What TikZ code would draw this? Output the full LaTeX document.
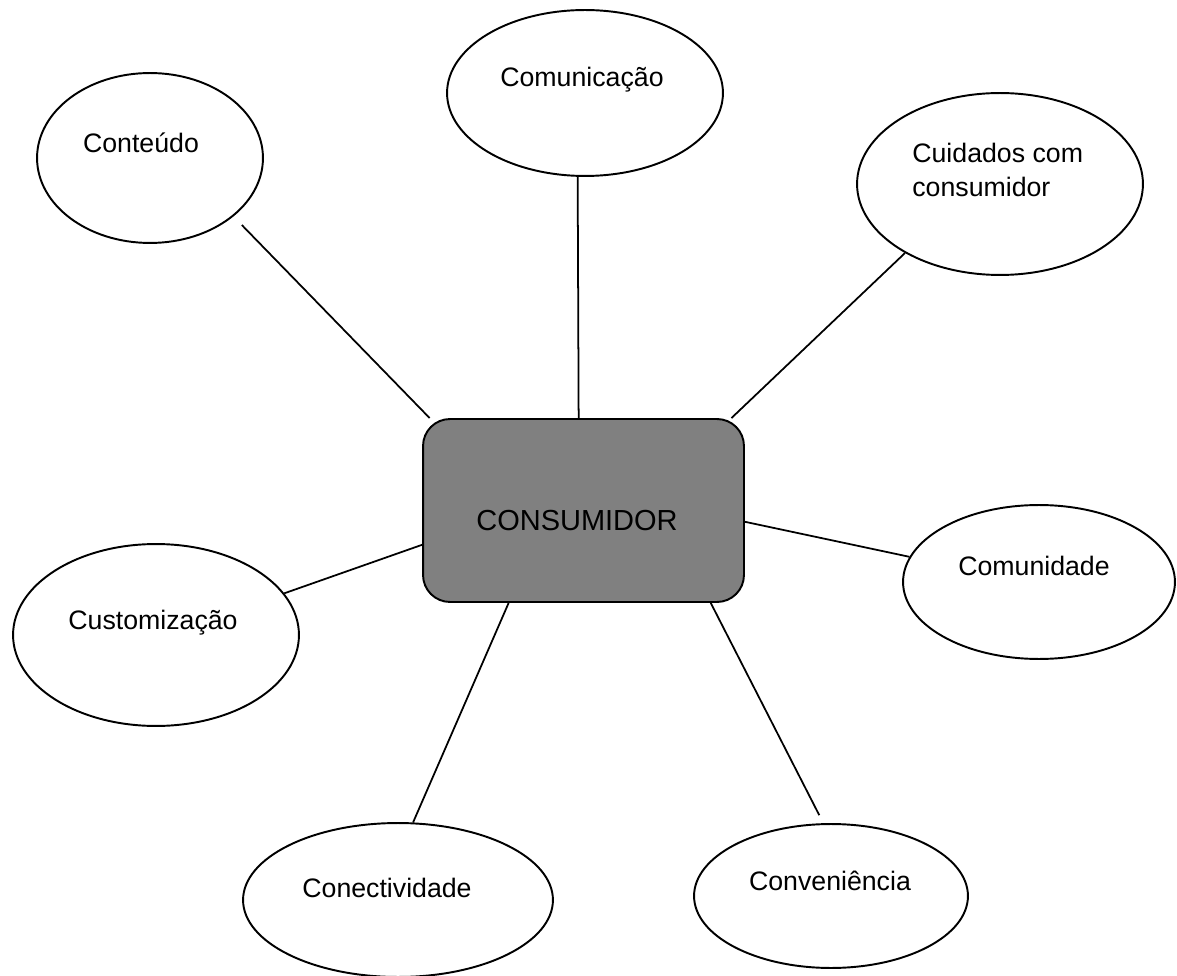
\documentclass[tikz,border=0pt]{standalone}
\usepackage{fontspec}
\setmainfont{Liberation Sans}
\usetikzlibrary{shapes.geometric}

\begin{document}
\begin{tikzpicture}[x=0.02cm, y=-0.02cm,
    bolha/.style={draw, ellipse, line width=1.1pt, inner sep=0},
    rotulo/.style={inner sep=0, anchor=base, font=\fontsize{15.2}{19.3}\selectfont},
    liga/.style={line width=1pt}]

 \useasboundingbox (0,0) rectangle (1177,976);

	%centro
 \node[draw, fill=black!50, line width=1.1pt, rounded corners=0.54cm,
       minimum width=6.42cm, minimum height=3.66cm] (cons) at (583.5,510.5) {};
 \node[rotulo, font=\fontsize{16.5}{20}\selectfont] (cons-t) at (577,530) {CONSUMIDOR};

	%bolhas
    \foreach \name/\x/\y/\rx/\ry in { cont/150/158/113/85, comu/585/93/138/83, cuid/1000/184/143/91,
                                      comd/1039/582/136/77, cust/156/635/143/91, cone/398/900/155/77,
                                      conv/831/896/137/72 }{
         \node[bolha, minimum width=\rx*0.04cm, minimum height=\ry*0.04cm] (\name) at (\x,\y) {};
    }

	%textos
    \foreach \name/\x/\y/\txt in { cont-t/141/153/Conteúdo, comu-t/582/87/Comunicação,
                                   comd-t/1034/575/Comunidade, cust-t/153/629/Customização,
                                   cone-t/387/897/Conectividade, conv-t/830/890/Conveniência }{
         \node[rotulo] (\name) at (\x,\y) {\txt};
    }
 \node[rotulo, anchor=north west, align=left] (cuid-t) at (912,143) {Cuidados com\\consumidor};

	%ligacoes
    \foreach \a/\p/\q in { comu/-95/93, cuid/-144/32, comd/169/-4, cust/18/192, cone/79/-129 }{
         \draw[liga] (\a.\p) -- (cons.\q);
    }
 \draw[liga, shorten <=0.24cm] (cont.-35) -- (cons.149);
 \draw[liga, shorten <=0.18cm] (conv.96) -- (cons.-36);

\end{tikzpicture}
\end{document}
